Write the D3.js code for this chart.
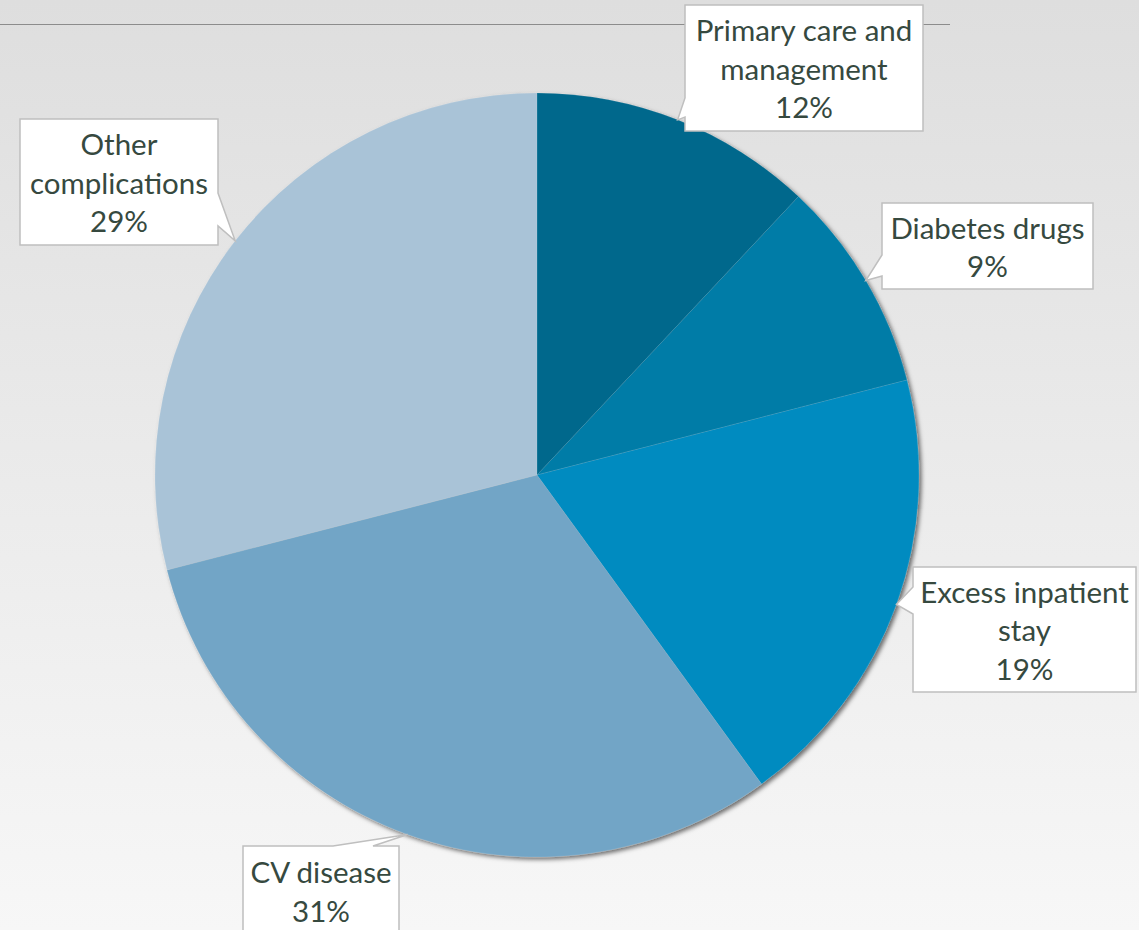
<!DOCTYPE html>
<html>
<head>
<meta charset="utf-8">
<script src="https://cdn.jsdelivr.net/npm/d3@7"></script>
<style>
  html, body { margin: 0; padding: 0; }
  body { width: 1139px; height: 930px; overflow: hidden; }
  svg { display: block; }
</style>
</head>
<body>
<svg id="chart" width="1139" height="930"></svg>
<script>
// Cost breakdown of diabetes care
const categories = ["Primary care and management", "Diabetes drugs", "Excess inpatient stay", "CV disease", "Other complications"];
const shares = [12, 9, 19, 31, 29];
const labelLines = [["Primary care and", "management"], ["Diabetes drugs"], ["Excess inpatient", "stay"], ["CV disease"], ["Other", "complications"]];
const sliceColors = ["#00688c", "#007ca7", "#008bc0", "#72a5c6", "#a9c3d7"];

// Callout box placement: box rectangle, the side carrying the pointer, and the pointer base span on that side
const callouts = [
  { x: 685, y: 5,   w: 238, h: 126, side: "left",  a: 98,  b: 117 },
  { x: 882, y: 203, w: 211, h: 86,  side: "left",  a: 255, b: 276 },
  { x: 913, y: 567, w: 223, h: 125, side: "left",  a: 587, b: 614 },
  { x: 243, y: 846, w: 156, h: 110, side: "top",   a: 333, b: 373 },
  { x: 20,  y: 119, w: 198, h: 126, side: "right", a: 193, b: 226 }
];

const W = 1139, H = 930;
const cx = 537, cy = 475, R = 382;
const svg = d3.select("#chart");
const defs = svg.append("defs");

const bg = defs.append("linearGradient").attr("id", "bg").attr("x1", 0).attr("y1", 0).attr("x2", 0).attr("y2", 1);
bg.append("stop").attr("offset", "0%").attr("stop-color", "#dedede");
bg.append("stop").attr("offset", "100%").attr("stop-color", "#f7f7f7");
svg.append("rect").attr("width", W).attr("height", H).attr("fill", "url(#bg)");

// rule across the top
svg.append("line").attr("x1", 0).attr("x2", 950).attr("y1", 24.5).attr("y2", 24.5)
  .attr("stroke", "#8c8c8c").attr("stroke-width", 1);

const shadow = defs.append("filter").attr("id", "pieShadow")
  .attr("x", "-10%").attr("y", "-10%").attr("width", "120%").attr("height", "120%");
shadow.append("feDropShadow").attr("dx", 2.5).attr("dy", 2.5).attr("stdDeviation", 2)
  .attr("flood-color", "#000").attr("flood-opacity", 0.55);

const pie = d3.pie().value(d => d).sort(null);
const arcs = pie(shares);
const arc = d3.arc().innerRadius(0).outerRadius(R);

const pieG = svg.append("g").attr("transform", `translate(${cx},${cy})`).attr("filter", "url(#pieShadow)");
pieG.selectAll("path.slice").data(arcs).join("path")
  .attr("class", "slice")
  .attr("d", arc)
  .attr("fill", (d, i) => sliceColors[i])
  .attr("stroke", "rgba(255,255,255,0.2)")
  .attr("stroke-width", 0.5);

// pointer tip sits on the rim at each slice's mid angle
function tipOf(d) {
  const m = (d.startAngle + d.endAngle) / 2;
  return [cx + R * Math.sin(m), cy - R * Math.cos(m)];
}

function calloutPath(c, tip) {
  const { x, y, w, h, side, a, b } = c;
  const pts = [];
  pts.push([x, y]);
  if (side === "top") { pts.push([a, y], tip, [b, y]); }
  pts.push([x + w, y]);
  if (side === "right") { pts.push([x + w, a], tip, [x + w, b]); }
  pts.push([x + w, y + h]);
  pts.push([x, y + h]);
  if (side === "left") { pts.push([x, b], tip, [x, a]); }
  return "M" + pts.map(p => p.join(",")).join("L") + "Z";
}

const labelG = svg.append("g");
const fontSize = 29.5, lineH = 38.5;
arcs.forEach((d, i) => {
  const c = callouts[i];
  const g = labelG.append("g");
  g.append("path")
    .attr("d", calloutPath(c, tipOf(d)))
    .attr("fill", "#ffffff")
    .attr("stroke", "#bfbfbf")
    .attr("stroke-width", 1.5)
    .attr("stroke-linejoin", "miter");
  const lines = labelLines[i].concat([shares[i] + "%"]);
  const n = lines.length;
  const centerY = c.side === "top" ? c.y + 46 : c.y + c.h / 2 + 1.5;
  const txt = g.append("text")
    .attr("text-anchor", "middle")
    .attr("font-family", "Lato, 'Open Sans', sans-serif")
    .attr("font-size", fontSize)
    .attr("fill", "#36493f");
  lines.forEach((t, k) => {
    txt.append("tspan")
      .attr("x", c.x + c.w / 2)
      .attr("y", centerY + (k - (n - 1) / 2) * lineH)
      .attr("dy", "0.35em")
      .text(t);
  });
});
</script>
</body>
</html>
